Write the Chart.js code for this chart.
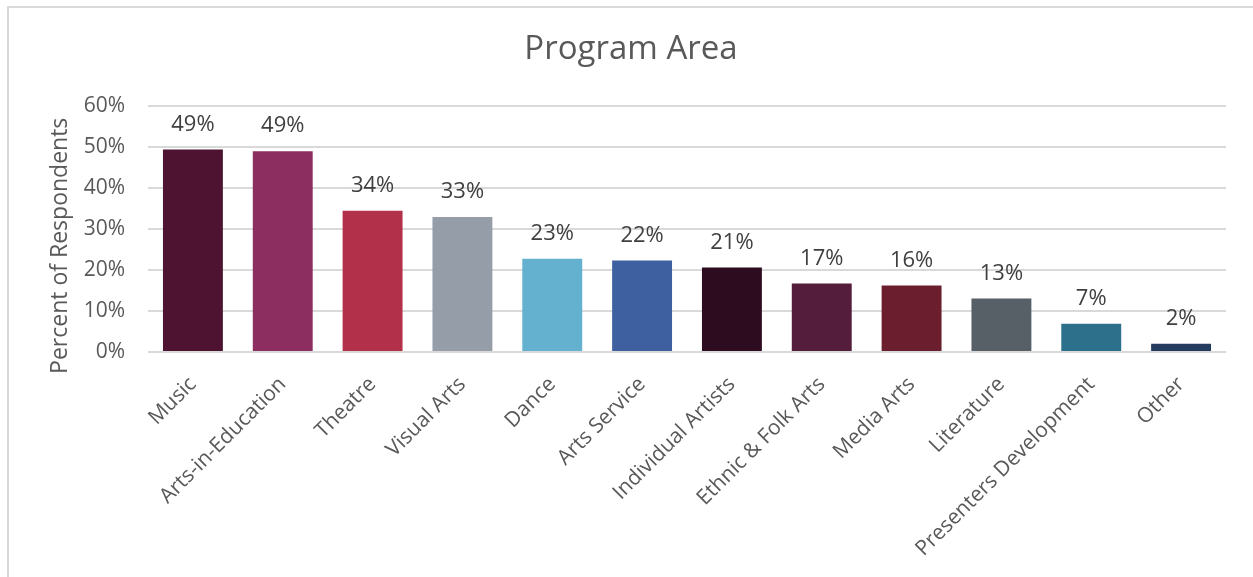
<!DOCTYPE html>
<html>
<head>
<meta charset="utf-8">
<title>Program Area</title>
<script src="https://cdn.jsdelivr.net/npm/chart.js@4.4.0/dist/chart.umd.min.js"></script>
<style>
  html, body { margin: 0; padding: 0; background: #fff; overflow: hidden; }
  #frame {
    position: absolute; left: 7px; top: 6px; width: 1400px; height: 700px;
    border-left: 2px solid #d9d9d9; border-top: 2px solid #d9d9d9;
  }
  #wrap { position: absolute; left: 0; top: 0; width: 1253px; height: 577px; }
</style>
</head>
<body>
<div id="frame"></div>
<div id="wrap"><canvas id="areaChart"></canvas></div>
<script>
// Share of respondents by program area
const categories = [
  "Music", "Arts-in-Education", "Theatre", "Visual Arts", "Dance", "Arts Service",
  "Individual Artists", "Ethnic & Folk Arts", "Media Arts", "Literature",
  "Presenters Development", "Other"
];
const percents = [49.3, 48.9, 34.4, 32.9, 22.7, 22.3, 20.6, 16.7, 16.2, 13.0, 6.9, 2.0];
const barColors = [
  "#4d1331", "#8c2f60", "#b2304a", "#959da8", "#64b0cf", "#3f60a0",
  "#2d0c20", "#541d3b", "#6a1e2e", "#575f67", "#2d708c", "#243a5e"
];
const yTicks = [0, 10, 20, 30, 40, 50, 60];
const yTitle = "Percent of Respondents";

const FONT = "'Open Sans', 'Noto Sans', sans-serif";

// Draws the rounded percentage above each bar
const valueLabels = {
  id: "valueLabels",
  afterDatasetsDraw(chart) {
    const ctx = chart.ctx;
    const meta = chart.getDatasetMeta(0);
    ctx.save();
    ctx.font = "22px " + FONT;
    ctx.fillStyle = "#404040";
    ctx.textAlign = "center";
    ctx.textBaseline = "middle";
    meta.data.forEach((bar, i) => {
      ctx.fillText(Math.round(percents[i]) + "%", bar.x, bar.y - 25);
    });
    ctx.restore();
  }
};

// Vertical axis title, sitting a little below the plot's middle
const axisTitle = {
  id: "axisTitle",
  afterDraw(chart) {
    const ctx = chart.ctx;
    const area = chart.chartArea;
    ctx.save();
    ctx.translate(60, (area.top + area.bottom) / 2 + 17);
    ctx.rotate(-Math.PI / 2);
    ctx.font = "23px " + FONT;
    ctx.fillStyle = "#595959";
    ctx.textAlign = "center";
    ctx.textBaseline = "middle";
    ctx.fillText(yTitle, 0, 0);
    ctx.restore();
  }
};

const ctx = document.getElementById("areaChart").getContext("2d");
const chart = new Chart(ctx, {
  type: "bar",
  data: {
    labels: categories,
    datasets: [{
      data: percents,
      backgroundColor: barColors,
      borderWidth: 0,
      categoryPercentage: 1,
      barPercentage: 0.667
    }]
  },
  options: {
    responsive: true,
    maintainAspectRatio: false,
    animation: false,
    layout: { padding: { left: 36, right: 27, top: 0, bottom: 0 } },
    plugins: {
      legend: { display: false },
      tooltip: { enabled: false },
      title: {
        display: true,
        text: "Program Area",
        color: "#595959",
        font: { family: FONT, size: 33, weight: "normal" },
        padding: { top: 30, bottom: 36 }
      }
    },
    scales: {
      x: {
        grid: { display: false, drawTicks: false },
        border: { display: false },
        ticks: {
          color: "#595959",
          font: { family: FONT, size: 21 },
          minRotation: 45,
          maxRotation: 45,
          autoSkip: false,
          padding: 20
        },
        afterFit(scale) { scale.height = 225; }
      },
      y: {
        min: 0,
        max: 60,
        afterBuildTicks(scale) { scale.ticks = yTicks.map(v => ({ value: v })); },
        grid: { color: "#d9d9d9", lineWidth: 2, drawTicks: false },
        border: { display: false },
        ticks: {
          color: "#595959",
          font: { family: FONT, size: 21 },
          padding: 23,
          callback: v => v + "%"
        },
        afterFit(scale) { scale.width = 112; }
      }
    }
  },
  plugins: [valueLabels, axisTitle]
});
</script>
</body>
</html>
